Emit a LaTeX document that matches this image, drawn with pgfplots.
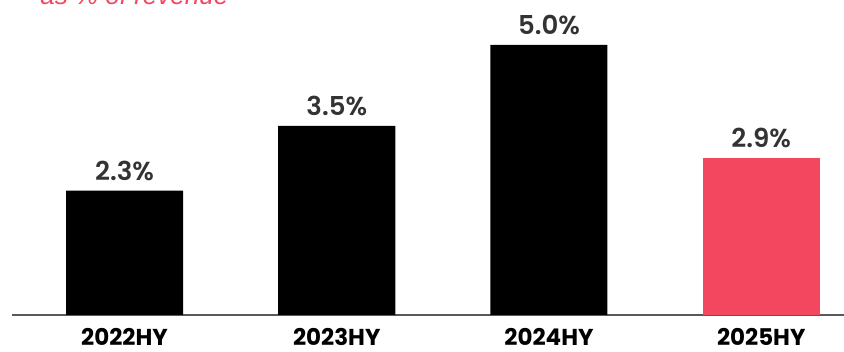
\documentclass[border=0pt]{standalone}
\usepackage{pgfplots}
\pgfplotsset{compat=1.18}
\usepackage{fontspec}
\setmainfont{Poppins}
\newfontfamily\popsemi{Poppins}[UprightFont=* SemiBold]
\newfontfamily\libsans{Liberation Sans}
\definecolor{pinkbar}{HTML}{F2475F}
\definecolor{valgray}{HTML}{333333}
\begin{document}
\begin{tikzpicture}[x=1pt,y=1pt]
\useasboundingbox (0,0) rectangle (422,176);
\node[anchor=base west, inner sep=0pt, text=pinkbar, font=\libsans\itshape\fontsize{13}{15}\selectfont] at (20,173.5) {as \% of revenue};
\begin{axis}[
  at={(62.25pt,18.5pt)}, anchor=origin,
  scale only axis, width=416pt, height=157.5pt,
  xmin=-0.53, xmax=3.39, ymin=0, ymax=5.83,
  axis x line*=bottom, axis y line=none,
  x axis line style={-, draw=gray!70!black, line width=1pt},
  xtick={0,1,2,3}, xticklabels={2022HY,2023HY,2024HY,2025HY},
  xtick style={draw=none},
  xticklabel style={font=\bfseries\fontsize{11.5}{13}\selectfont, text=black, yshift=1pt},
  ybar, bar width=58.5pt, bar shift=0pt,
  /pgf/number format/assume math mode=true,
  nodes near coords={\pgfmathprintnumber[fixed,fixed zerofill,precision=1]{\pgfplotspointmeta}\%},
  nodes near coords style={font=\popsemi\fontsize{13}{15}\selectfont, text=valgray, yshift=1.5pt},
  clip=false,
]
\addplot[fill=black, draw=none] coordinates {(0,2.3) (1,3.5) (2,5.0)};
\addplot[fill=pinkbar, draw=none] coordinates {(3,2.9)};
\end{axis}
\end{tikzpicture}
\end{document}
